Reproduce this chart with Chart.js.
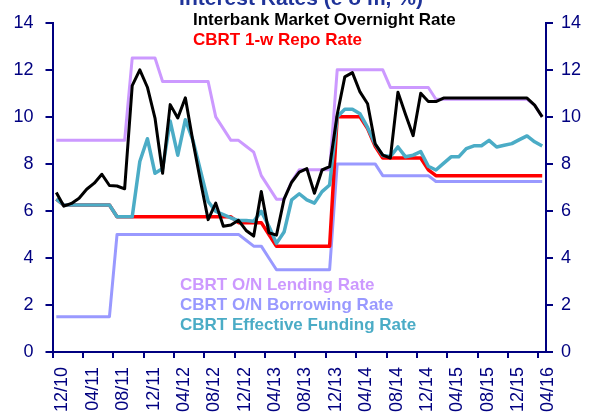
<!DOCTYPE html>
<html>
<head>
<meta charset="utf-8">
<script src="https://cdn.jsdelivr.net/npm/chart.js@4"></script>
<style>
  html, body { margin: 0; padding: 0; background: #fff; }
</style>
</head>
<body>
<canvas id="myChart" width="590" height="419"></canvas>
<script>
// months, end of month, Dec 2010 .. Apr 2016
let months = [
  '2010-12',
  '2011-01', '2011-02', '2011-03', '2011-04', '2011-05', '2011-06', '2011-07', '2011-08', '2011-09', '2011-10', '2011-11', '2011-12',
  '2012-01', '2012-02', '2012-03', '2012-04', '2012-05', '2012-06', '2012-07', '2012-08', '2012-09', '2012-10', '2012-11', '2012-12',
  '2013-01', '2013-02', '2013-03', '2013-04', '2013-05', '2013-06', '2013-07', '2013-08', '2013-09', '2013-10', '2013-11', '2013-12',
  '2014-01', '2014-02', '2014-03', '2014-04', '2014-05', '2014-06', '2014-07', '2014-08', '2014-09', '2014-10', '2014-11', '2014-12',
  '2015-01', '2015-02', '2015-03', '2015-04', '2015-05', '2015-06', '2015-07', '2015-08', '2015-09', '2015-10', '2015-11', '2015-12',
  '2016-01', '2016-02', '2016-03', '2016-04'
];
let tickLabels = ['12/10', '04/11', '08/11', '12/11', '04/12', '08/12', '12/12', '04/13', '08/13', '12/13', '04/14', '08/14', '12/14', '04/15', '08/15', '12/15', '04/16'];
let yTicks = [0, 2, 4, 6, 8, 10, 12, 14];

let overnight = [
  6.78, 6.2, 6.32, 6.54, 6.92, 7.18, 7.56, 7.08, 7.06, 6.94, 11.33, 12.0, 11.26,
  9.95, 7.6, 10.52, 9.95, 10.81, 8.95, 7.25, 5.63, 6.33, 5.35, 5.4, 5.6,
  5.17, 4.93, 6.83, 5.07, 4.97, 6.5, 7.22, 7.65, 7.8, 6.75, 7.74, 7.88,
  10.1, 11.7, 11.88, 11.06, 10.56, 8.85, 8.37, 8.25, 11.05, 10.1, 9.2, 11.0,
  10.65, 10.65, 10.8, 10.8, 10.8, 10.8, 10.8, 10.8, 10.8, 10.8, 10.8, 10.8,
  10.8, 10.8, 10.5, 10.0
];
let repo = [
  6.5, 6.25, 6.25, 6.25, 6.25, 6.25, 6.25, 6.25, 5.75, 5.75, 5.75, 5.75, 5.75,
  5.75, 5.75, 5.75, 5.75, 5.75, 5.75, 5.75, 5.75, 5.75, 5.75, 5.75, 5.5,
  5.5, 5.5, 5.5, 5.0, 4.5, 4.5, 4.5, 4.5, 4.5, 4.5, 4.5, 4.5,
  10, 10, 10, 10, 9.5, 8.75, 8.25, 8.25, 8.25, 8.25, 8.25, 8.25,
  7.75, 7.5, 7.5, 7.5, 7.5, 7.5, 7.5, 7.5, 7.5, 7.5, 7.5, 7.5,
  7.5, 7.5, 7.5, 7.5
];
let lending = [
  9, 9, 9, 9, 9, 9, 9, 9, 9, 9, 12.5, 12.5, 12.5,
  12.5, 11.5, 11.5, 11.5, 11.5, 11.5, 11.5, 11.5, 10, 9.5, 9, 9,
  8.75, 8.5, 7.5, 7, 6.5, 6.5, 7.25, 7.75, 7.75, 7.75, 7.75, 7.75,
  12, 12, 12, 12, 12, 12, 12, 11.25, 11.25, 11.25, 11.25, 11.25,
  11.25, 10.75, 10.75, 10.75, 10.75, 10.75, 10.75, 10.75, 10.75, 10.75, 10.75, 10.75,
  10.75, 10.75, 10.5, 10.0
];
let borrowing = [
  1.5, 1.5, 1.5, 1.5, 1.5, 1.5, 1.5, 1.5, 5, 5, 5, 5, 5,
  5, 5, 5, 5, 5, 5, 5, 5, 5, 5, 5, 5,
  4.75, 4.5, 4.5, 4, 3.5, 3.5, 3.5, 3.5, 3.5, 3.5, 3.5, 3.5,
  8, 8, 8, 8, 8, 8, 7.5, 7.5, 7.5, 7.5, 7.5, 7.5,
  7.5, 7.25, 7.25, 7.25, 7.25, 7.25, 7.25, 7.25, 7.25, 7.25, 7.25, 7.25,
  7.25, 7.25, 7.25, 7.25
];
let funding = [
  6.5, 6.25, 6.25, 6.25, 6.25, 6.25, 6.25, 6.25, 5.75, 5.75, 5.75, 8.1, 9.07,
  7.6, 7.8, 9.82, 8.37, 9.88, 9.0, 7.7, 6.4, 5.98, 5.84, 5.7, 5.59,
  5.59, 5.56, 5.98, 5.35, 4.62, 5.1, 6.47, 6.73, 6.47, 6.33, 6.82, 7.1,
  10.0, 10.32, 10.32, 10.13, 9.55, 8.83, 8.36, 8.31, 8.72, 8.3, 8.37, 8.52,
  7.9, 7.74, 8.02, 8.3, 8.3, 8.65, 8.77, 8.77, 9.0, 8.72, 8.79, 8.86,
  9.03, 9.19, 8.94, 8.76
];

let names = ['Interbank Market Overnight Rate', 'CBRT 1-w Repo Rate', 'CBRT O/N Lending Rate', 'CBRT O/N Borrowing Rate', 'CBRT Effective Funding Rate'];
let title = 'Interest Rates (e o m, %)';

const navy = '#000080';
const FONT = '"Liberation Sans", Arial, sans-serif';
const colors = {
  overnight: '#000000',
  repo: '#ff0000',
  lending: '#cc99ff',
  borrowing: '#9999ff',
  funding: '#4bacc6'
};

function pts(arr) {
  return arr.map((v, i) => ({ x: i, y: v }));
}

function line(label, arr, color, width) {
  return {
    label: label,
    data: pts(arr),
    borderColor: color,
    backgroundColor: color,
    borderWidth: width,
    pointRadius: 0,
    tension: 0,
    fill: false,
    borderJoinStyle: 'round'
  };
}

// texts drawn inside the plot like the original (no boxes)
const textPlugin = {
  id: 'texts',
  afterDraw(chart) {
    const c = chart.ctx;
    c.save();
    c.textBaseline = 'alphabetic';
    c.font = 'bold 21px ' + FONT;
    c.fillStyle = '#1f3399';
    c.textAlign = 'center';
    c.fillText(title, 301, 5);

    c.font = 'bold 17px ' + FONT;
    c.textAlign = 'left';
    let items = [
      [names[0], colors.overnight, 193, 25],
      [names[1], colors.repo, 193, 45],
      [names[2], colors.lending, 180, 290],
      [names[3], colors.borrowing, 180, 310],
      [names[4], colors.funding, 180, 330]
    ];
    items.forEach(it => {
      c.fillStyle = it[1];
      c.fillText(it[0], it[2], it[3]);
    });
    c.restore();
  }
};

let ctx = document.getElementById('myChart').getContext('2d');
var myChart = new Chart(ctx, {
  type: 'line',
  data: {
    datasets: [
      line(names[0], overnight, colors.overnight, 3),
      line(names[4], funding, colors.funding, 3.5),
      line(names[1], repo, colors.repo, 3.5),
      line(names[3], borrowing, colors.borrowing, 3),
      line(names[2], lending, colors.lending, 3)
    ]
  },
  options: {
    responsive: false,
    animation: false,
    devicePixelRatio: 1,
    layout: { padding: { top: 20, left: 0, right: 0, bottom: 0 } },
    plugins: {
      legend: { display: false },
      tooltip: { enabled: false }
    },
    scales: {
      x: {
        type: 'linear',
        min: -0.5,
        max: 64.5,
        afterBuildTicks: axis => {
          axis.ticks = tickLabels.map((t, k) => ({ value: -0.5 + 4 * k }));
        },
        afterFit: axis => { axis.height = 67; },
        ticks: {
          autoSkip: false,
          minRotation: 90,
          maxRotation: 90,
          padding: 9,
          labelOffset: 10,
          color: navy,
          font: { family: FONT, size: 18 },
          callback: (v, i) => tickLabels[i]
        },
        grid: { drawOnChartArea: false, drawTicks: true, tickLength: 6, color: navy, lineWidth: 2 },
        border: { display: true, color: navy, width: 2 }
      },
      y: {
        position: 'left',
        min: 0,
        max: 14,
        afterBuildTicks: axis => { axis.ticks = yTicks.map(v => ({ value: v })); },
        afterFit: axis => { axis.width = 52.5; },
        ticks: { padding: 12, color: navy, font: { family: FONT, size: 18 } },
        grid: { drawOnChartArea: false, drawTicks: true, tickLength: 7, color: navy, lineWidth: 2 },
        border: { display: true, color: navy, width: 2 }
      },
      y2: {
        position: 'right',
        min: 0,
        max: 14,
        afterBuildTicks: axis => { axis.ticks = yTicks.map(v => ({ value: v })); },
        afterFit: axis => { axis.width = 44; },
        ticks: { padding: 8, color: navy, font: { family: FONT, size: 18 } },
        grid: { drawOnChartArea: false, drawTicks: true, tickLength: 7, color: navy, lineWidth: 2 },
        border: { display: true, color: navy, width: 2 }
      }
    }
  },
  plugins: [textPlugin]
});
</script>
</body>
</html>
